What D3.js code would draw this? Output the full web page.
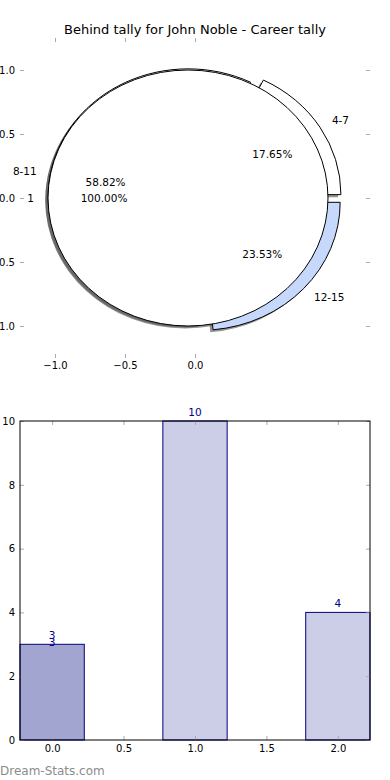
<!DOCTYPE html>
<html>
<head>
<meta charset="utf-8">
<script src="https://cdn.jsdelivr.net/npm/d3@7"></script>
<style>
  body { margin: 0; background: #fff; }
  text { font-family: "DejaVu Sans", sans-serif; }
</style>
</head>
<body>
<div id="chart"></div>
<script>
// Chart data
const title = "Behind tally for John Noble - Career tally";
const sliceLabels = ["4-7", "8-11", "12-15"];
const sliceValues = [3, 10, 4];
const sliceColors = ["#ffffff", "#ffffff", "#c6d9fd"];
const totalLabels = ["1"];
const totalValues = [1];
const totalColors = ["#ffffff"];
const pieTicksX = [-1.0, -0.5, 0.0];
const pieTicksY = [-1.0, -0.5, 0.0, 0.5, 1.0];

const barX = [0, 1, 2];
const barValues = [3, 10, 4];
const barColors = ["#a3a5d1", "#cccde6", "#cccde6"];
const barLabelX = [0, 0, 1, 2];
const barLabelY = [3, 2.78, 10, 4];
const barLabelText = ["3", "3", "10", "4"];
const barTicksX = [0, 0.5, 1.0, 1.5, 2.0];
const barTicksY = [0, 2, 4, 6, 8, 10];

const explode = 0.05;
const width = 390, height = 780;

const svg = d3.select("#chart")
    .append("svg")
    .attr("width", width)
    .attr("height", height);

// Title
svg.append("text")
    .attr("x", 195)
    .attr("y", 34)
    .attr("text-anchor", "middle")
    .style("font-size", "13px")
    .text(title);

// ---------- Pie panel ----------
const px = d3.scaleLinear().domain([-1.25, 1.25]).range([20, 370]);
const py = d3.scaleLinear().domain([-1.25, 1.25]).range([358, 38]);
const kx = px(1) - px(0), ky = py(0) - py(1);

const pieG = svg.append("g");
const shadowLayer = pieG.append("g");
const wedgeLayer = pieG.append("g");
const textLayer = pieG.append("g");

const pie = d3.pie().sort(null)
    .startAngle(Math.PI / 2)
    .endAngle(Math.PI / 2 - 2 * Math.PI);
const arc = d3.arc().innerRadius(0).outerRadius(1);
const pct = d3.format(".2f");

function drawPie(values, labels, colors) {
    const total = d3.sum(values);
    pie(values).forEach((d, i) => {
        const mid = (d.startAngle + d.endAngle) / 2;
        const ux = Math.sin(mid), uy = Math.cos(mid);
        const cx = explode * ux, cy = explode * uy;

        shadowLayer.append("path")
            .attr("transform", `translate(${px(cx - 0.02)},${py(cy - 0.02)}) scale(${kx},${ky})`)
            .attr("d", arc(d))
            .attr("fill", "#4d4d4d")
            .attr("fill-opacity", 0.6);

        wedgeLayer.append("path")
            .attr("transform", `translate(${px(cx)},${py(cy)}) scale(${kx},${ky})`)
            .attr("d", arc(d))
            .attr("fill", colors[i])
            .attr("stroke", "#000")
            .attr("stroke-width", 1)
            .attr("vector-effect", "non-scaling-stroke");

        const lx = cx + 1.1 * ux, ly = cy + 1.1 * uy;
        textLayer.append("text")
            .attr("x", px(lx))
            .attr("y", py(ly))
            .attr("dy", "0.35em")
            .attr("text-anchor", lx > 0 ? "start" : "end")
            .style("font-size", "10.5px")
            .text(labels[i]);

        textLayer.append("text")
            .attr("x", px(cx + 0.6 * ux))
            .attr("y", py(cy + 0.6 * uy))
            .attr("dy", "0.35em")
            .attr("text-anchor", "middle")
            .style("font-size", "10.5px")
            .text(pct(values[i] / total * 100) + "%");
    });
}

drawPie(sliceValues, sliceLabels, sliceColors);
drawPie(totalValues, totalLabels, totalColors);

const fmt1 = d3.format(".1f");

function styleAxis(g) {
    g.select(".domain").remove();
    g.selectAll(".tick line").attr("stroke", "#aaa");
    g.selectAll(".tick text")
        .style("font-size", "10px")
        .style("font-family", "DejaVu Sans, sans-serif")
        .attr("fill", "#000");
}

pieG.append("g")
    .attr("transform", `translate(0,${py(-1.25)})`)
    .call(d3.axisBottom(px).tickValues(pieTicksX).tickFormat(fmt1).tickSizeInner(-4).tickSizeOuter(0).tickPadding(4))
    .call(styleAxis);
pieG.append("g")
    .attr("transform", `translate(0,${py(1.25)})`)
    .call(d3.axisTop(px).tickValues(pieTicksX).tickFormat("").tickSizeInner(-4).tickSizeOuter(0))
    .call(styleAxis);
pieG.append("g")
    .attr("transform", `translate(${px(-1.25)},0)`)
    .call(d3.axisLeft(py).tickValues(pieTicksY).tickFormat(fmt1).tickSizeInner(-4).tickSizeOuter(0).tickPadding(5))
    .call(styleAxis);
pieG.append("g")
    .attr("transform", `translate(${px(1.25)},0)`)
    .call(d3.axisRight(py).tickValues(pieTicksY).tickFormat("").tickSizeInner(-4).tickSizeOuter(0))
    .call(styleAxis);

// ---------- Bar panel ----------
const bx = d3.scaleLinear().domain([-0.225, 2.225]).range([20, 370]);
const by = d3.scaleLinear().domain([0, 10]).range([740, 421]);
const barW = 0.45;

const barG = svg.append("g");

barG.selectAll("rect.bar")
    .data(barX)
    .join("rect")
    .attr("class", "bar")
    .attr("x", d => bx(d - barW / 2))
    .attr("width", d => bx(d + barW / 2) - bx(d - barW / 2))
    .attr("y", (d, i) => by(barValues[i]))
    .attr("height", (d, i) => by(0) - by(barValues[i]))
    .attr("fill", (d, i) => barColors[i])
    .attr("stroke", "#000080")
    .attr("stroke-width", 1);

barG.selectAll("text.lbl")
    .data(barLabelText)
    .join("text")
    .attr("class", "lbl")
    .attr("x", (d, i) => bx(barLabelX[i]))
    .attr("y", (d, i) => by(barLabelY[i]) - 5)
    .attr("text-anchor", "middle")
    .attr("fill", "#00008b")
    .style("font-size", "10.5px")
    .text(d => d);

barG.append("g")
    .attr("transform", `translate(0,${by(0)})`)
    .call(d3.axisBottom(bx).tickValues(barTicksX).tickFormat(fmt1).tickSizeInner(-4).tickSizeOuter(0).tickPadding(5))
    .call(styleAxis);
barG.append("g")
    .attr("transform", `translate(0,${by(10)})`)
    .call(d3.axisTop(bx).tickValues(barTicksX).tickFormat("").tickSizeInner(-4).tickSizeOuter(0))
    .call(styleAxis);
barG.append("g")
    .attr("transform", `translate(${bx(-0.225)},0)`)
    .call(d3.axisLeft(by).tickValues(barTicksY).tickFormat(d3.format("d")).tickSizeInner(-4).tickSizeOuter(0).tickPadding(5))
    .call(styleAxis);
barG.append("g")
    .attr("transform", `translate(${bx(2.225)},0)`)
    .call(d3.axisRight(by).tickValues(barTicksY).tickFormat("").tickSizeInner(-4).tickSizeOuter(0))
    .call(styleAxis);

// Frame
barG.append("rect")
    .attr("x", bx(-0.225))
    .attr("y", by(10))
    .attr("width", bx(2.225) - bx(-0.225))
    .attr("height", by(0) - by(10))
    .attr("fill", "none")
    .attr("stroke", "#000")
    .attr("stroke-width", 1);

// Watermark
svg.append("text")
    .attr("x", 0)
    .attr("y", 775)
    .attr("fill", "#8c8c8c")
    .style("font-size", "12px")
    .text("Dream-Stats.com");
</script>
</body>
</html>
